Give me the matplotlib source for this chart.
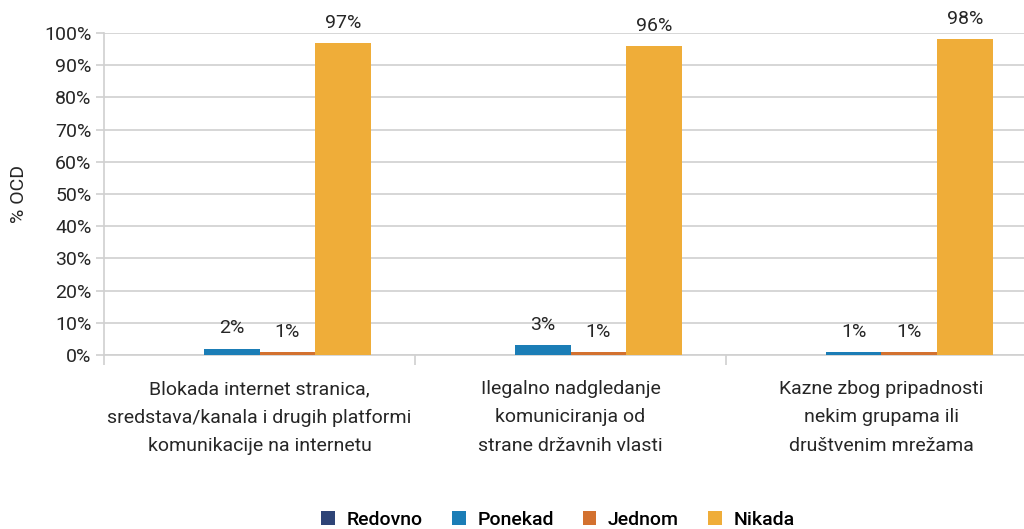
import numpy as np
import matplotlib.pyplot as plt
from matplotlib.ticker import FixedLocator, PercentFormatter

plt.rcParams['font.family'] = ['Roboto', 'DejaVu Sans']

categories = [
    'Blokada internet stranica,\nsredstava/kanala i drugih platformi\nkomunikacije na internetu',
    'Ilegalno nadgledanje\nkomuniciranja od\nstrane državnih vlasti',
    'Kazne zbog pripadnosti\nnekim grupama ili\ndruštvenim mrežama',
]
series_names = ['Redovno', 'Ponekad', 'Jednom', 'Nikada']
redovno = [0, 0, 0]
ponekad = [2, 3, 1]
jednom = [1, 1, 1]
nikada = [97, 96, 98]
colors = ['#2E4477', '#1B7DB6', '#D3712F', '#EFAD39']

text_color = '#262626'
grid_color = '#D0D0D0'

fig = plt.figure(figsize=(10.24, 5.29), dpi=100)
ax = fig.add_axes([104 / 1024, (529 - 355) / 529,
                   (1037 - 104) / 1024, 322 / 529])

x = np.arange(len(categories))
width = 0.18
all_series = [redovno, ponekad, jednom, nikada]
for i, (name, vals, col) in enumerate(zip(series_names, all_series, colors)):
    offset = (i - 1.5) * width
    bars = ax.bar(x + offset, vals, width, color=col, label=name, zorder=3)
    for rect, v in zip(bars, vals):
        if v == 0:
            continue
        ax.annotate(f'{v}%',
                    xy=(rect.get_x() + rect.get_width() / 2, v),
                    xytext=(0, 8), textcoords='offset points',
                    ha='center', va='bottom',
                    fontsize=14, color=text_color)

ax.set_xlim(-0.5, len(categories) - 0.5)
ax.set_ylim(0, 100)
ax.set_yticks(np.arange(0, 101, 10))
ax.yaxis.set_major_formatter(PercentFormatter(decimals=0))
ax.yaxis.grid(True, color=grid_color, linewidth=1.2, zorder=0)

ax.set_xticks(x)
ax.set_xticklabels(categories, fontsize=14, color=text_color, linespacing=1.75)
ax.xaxis.set_minor_locator(FixedLocator(np.arange(-0.5, len(categories), 1)))
ax.tick_params(axis='x', which='major', length=0, pad=18)
ax.tick_params(axis='x', which='minor', length=7, color=grid_color, width=1.2)
ax.tick_params(axis='y', length=6, color=grid_color, width=1.2,
               labelsize=14, labelcolor=text_color, pad=3)

for side in ['top', 'right']:
    ax.spines[side].set_visible(False)
for side in ['left', 'bottom']:
    ax.spines[side].set_color(grid_color)
    ax.spines[side].set_linewidth(1.2)

ax.set_ylabel('% OCD', fontsize=14, color=text_color)
ax.yaxis.set_label_coords(-76 / 933, 0.5)

fig.legend(loc='center', bbox_to_anchor=(558 / 1024, 9 / 529),
           ncol=4, frameon=False, handlelength=0.7, handleheight=0.7,
           handletextpad=0.6, columnspacing=1.5,
           prop={'size': 14, 'weight': 'medium'})

fig.savefig('out.png', dpi=100)
